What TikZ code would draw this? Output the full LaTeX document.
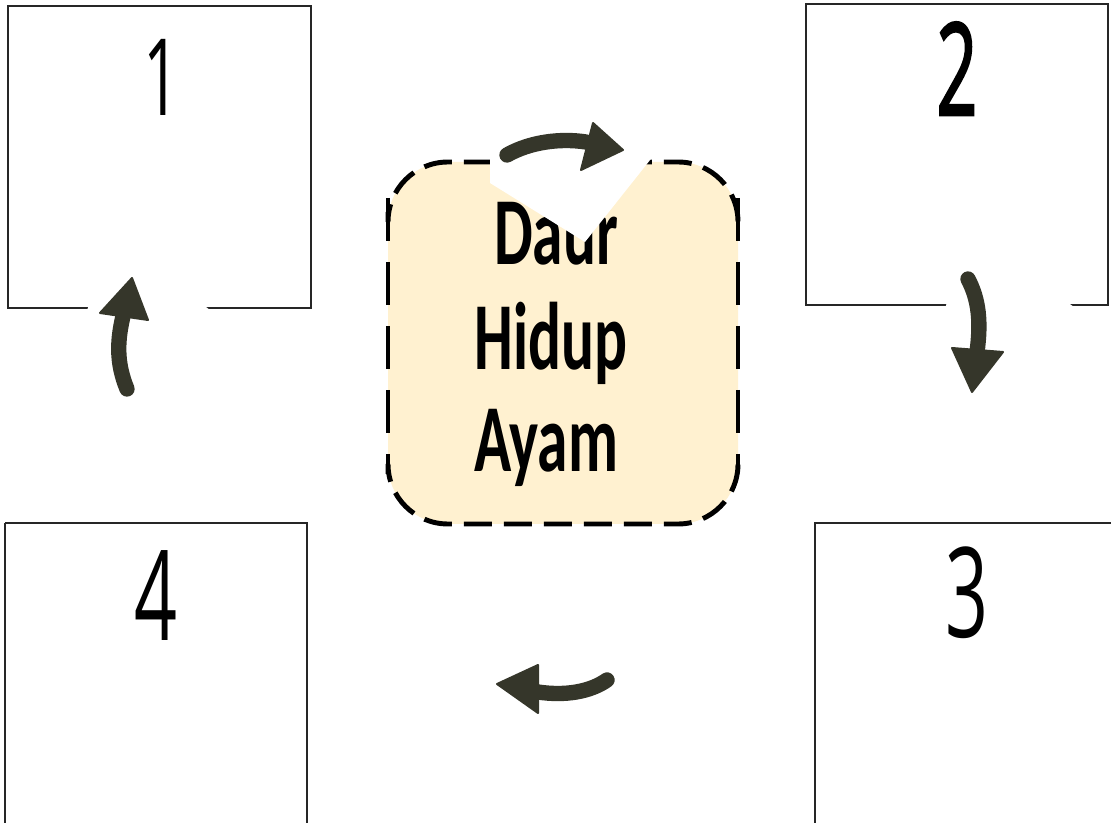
\documentclass[tikz,border=0pt]{standalone}
\usepackage{fontspec}
\setmainfont{Open Sans}
\newfontfamily\titlefont{Carlito}
\newfontfamily\semibfont[FakeBold=2.2]{Open Sans}
\definecolor{arrowc}{HTML}{35362A}
\definecolor{centerfill}{HTML}{FFF1D0}
\tikzset{
  panel/.style={draw=black!85, line width=1.4pt},
  digit/.style={anchor=base, inner sep=0pt, font=\fontsize{94}{100}\selectfont},
  titleline/.style={anchor=base, inner sep=0pt, font=\titlefont\bfseries\fontsize{72}{80}\selectfont},
  patch/.style={fill=white, draw=none},
  shaft/.style={draw=arrowc, line width=11.5pt, line cap=round},
  head/.style={fill=arrowc, draw=arrowc, line width=1.5pt, line join=round},
  boxfill/.style={fill=centerfill, rounded corners=45pt},
  hdash/.style={draw=black, line width=3.7pt, dash pattern=on 21pt off 9pt, rounded corners=45pt},
  vdash/.style={draw=black, line width=3.7pt, dash pattern=on 32pt off 16pt}
}
\begin{document}
\begin{tikzpicture}[x=0.75pt, y=-0.75pt]
\useasboundingbox (0,0) rectangle (1111,823);
% panels
\draw[panel] (8,6) rectangle (311,308);
\draw[panel] (806,4) rectangle (1108,305);
\draw[panel] (5,523) -- (307,523) -- (307,830) (5,830) -- (5,523);
\draw[panel] (1120,523) -- (815,523) -- (815,830);
% digits
\node[digit, font=\fontsize{80}{86}\selectfont] (n1) at (162,116) {\scalebox{0.6}[1]{1}};
\node[digit, font=\semibfont\fontsize{96}{100}\selectfont] (n2) at (957,115) {\scalebox{0.56}[1]{2}};
\node[digit] (n4) at (156,640) {\scalebox{0.6}[1]{4}};
\node[digit] (n3) at (967,637) {\scalebox{0.6}[1]{3}};
% center box
\fill[boxfill] (388,162) rectangle (738,524);
\draw[hdash] (388,212) -- (388,162) -- (738,162) -- (738,212);
\draw[vdash] (388,198) -- (388,470);
\draw[vdash] (738,198) -- (738,470);
\draw[hdash] (388,474) -- (388,524) -- (738,524) -- (738,474);
\node[titleline] (t1) at (556,265) {\scalebox{0.64}[1]{Daur}};
\node[titleline] (t2) at (551,370) {\scalebox{0.64}[1]{Hidup}};
\node[titleline] (t3) at (546,472) {\scalebox{0.64}[1]{Ayam}};
% white patches
\fill[patch] (490,140) -- (490,183) -- (585,242) -- (658,150) -- cycle;
\fill[patch] (115,232) -- (228,325) -- (130,420) -- (80,330) -- cycle;
\fill[patch] (965,228) -- (1085,315) -- (975,420) -- (940,330) -- cycle;
% arrows
\draw[shaft] (507,155) .. controls (530,142) and (560,138) .. (586,142);
\fill[head] (593,123) -- (623,150) -- (581,170) -- cycle;
\draw[shaft] (127,389) .. controls (116,362) and (117,340) .. (124,312);
\fill[head] (100,313) -- (148,320) -- (132,278) -- cycle;
\draw[shaft] (968,279) .. controls (979,300) and (981,322) .. (977,352);
\fill[head] (952,348) -- (1003,352) -- (972,392) -- cycle;
\draw[shaft] (607,680) .. controls (590,692) and (565,696) .. (538,692);
\fill[head] (538,665) -- (538,713) -- (497,684) -- cycle;
\end{tikzpicture}
\end{document}
